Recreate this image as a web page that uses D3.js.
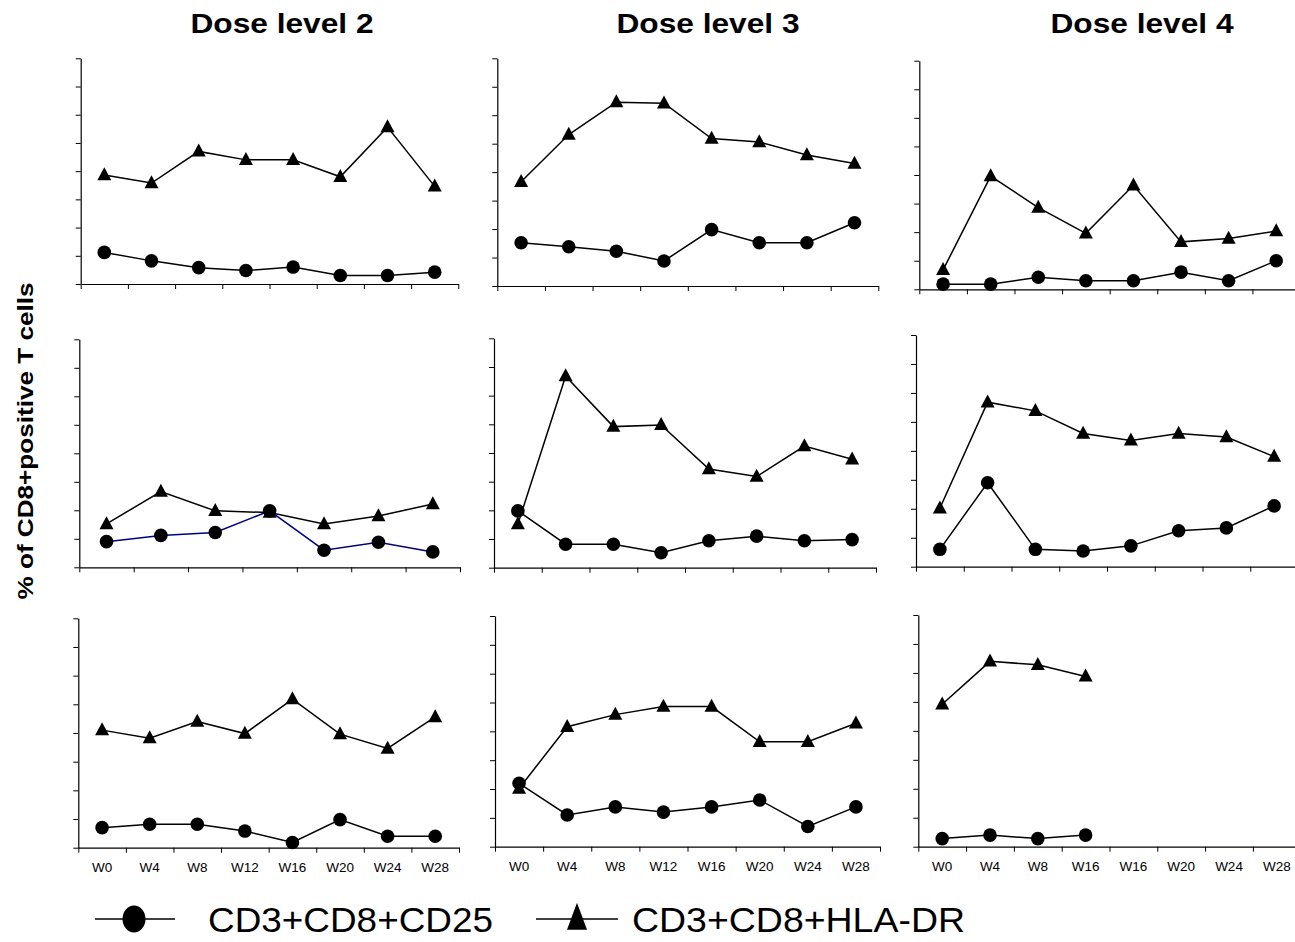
<!DOCTYPE html>
<html>
<head>
<meta charset="utf-8">
<script src="https://cdn.jsdelivr.net/npm/d3@7"></script>
<style>
  html, body { margin: 0; padding: 0; background: #fff; }
  svg { display: block; font-family: "Liberation Sans", Arial, sans-serif; }
</style>
</head>
<body>
<svg id="chart" width="1295" height="942"></svg>
<script>
// ---------------- DATA ----------------
const doseLevels = ["Dose level 2", "Dose level 3", "Dose level 4"];
const weeks = ["W0", "W4", "W8", "W12", "W16", "W20", "W24", "W28"];
const weeksSeven = ["W0", "W4", "W8", "W12", "W16", "W20", "W24"];
const weeksDose4Patient3 = ["W0", "W4", "W8", "W16", "W16", "W20", "W24", "W28"];
const yTicks = [0, 5, 10, 15, 20, 25, 30, 35, 40];
const seriesNames = ["CD3+CD8+CD25", "CD3+CD8+HLA-DR"];

// Row 1
const cd25_r1_d2  = [5.6, 4.1, 2.9, 2.4, 3.0, 1.5, 1.5, 2.1];
const hladr_r1_d2 = [19.3, 17.9, 23.5, 22.0, 22.0, 19.0, 27.8, 17.3];
const cd25_r1_d3  = [7.6, 6.9, 6.1, 4.4, 9.9, 7.6, 7.6, 11.1];
const hladr_r1_d3 = [18.3, 26.6, 32.3, 32.1, 25.9, 25.3, 23.0, 21.5];
const cd25_r1_d4  = [0.9, 0.9, 2.1, 1.5, 1.5, 3.0, 1.5, 5.0];
const hladr_r1_d4 = [3.4, 19.8, 14.3, 9.8, 18.2, 8.3, 8.9, 10.2];
// Row 2
const cd25_r2_d2  = [4.5, 5.6, 6.1, 9.9, 3.0, 4.4, 2.7];
const hladr_r2_d2 = [7.6, 13.3, 9.9, 9.6, 7.6, 9.0, 11.1];
const cd25_r2_d3  = [9.9, 4.1, 4.1, 2.6, 4.7, 5.5, 4.7, 4.9];
const hladr_r2_d3 = [7.6, 33.4, 24.6, 24.9, 17.2, 15.9, 21.2, 18.9];
const cd25_r2_d4  = [3.0, 14.5, 3.0, 2.7, 3.6, 6.2, 6.7, 10.5];
const hladr_r2_d4 = [10.1, 28.4, 26.9, 23.0, 21.8, 23.0, 22.4, 19.0];
// Row 3
const cd25_r3_d2  = [3.5, 4.1, 4.1, 2.9, 0.9, 4.9, 2.0, 2.0];
const hladr_r3_d2 = [20.5, 19.1, 22.0, 19.9, 25.9, 19.8, 17.3, 22.8];
const cd25_r3_d3  = [11.0, 5.5, 6.9, 6.0, 6.9, 8.1, 3.5, 6.9];
const hladr_r3_d3 = [10.1, 20.8, 22.9, 24.3, 24.3, 18.2, 18.2, 21.4];
const cd25_r3_d4  = [1.4, 2.0, 1.4, 2.0];
const hladr_r3_d4 = [24.6, 32.0, 31.4, 29.4];

// ---------------- LAYOUT ----------------
// panel geometry: left axis x, right end, top tick y, baseline y
const panels = [
  {row: 0, col: 0, L: 80.7, R: 458.3, T: 58.3, B: 284,   cats: weeks,      cd25: cd25_r1_d2, hla: hladr_r1_d2},
  {row: 0, col: 1, L: 497.3, R: 878.3, T: 58.3, B: 286,  cats: weeks,      cd25: cd25_r1_d3, hla: hladr_r1_d3},
  {row: 0, col: 2, L: 919.3, R: 1300, T: 60.7, B: 289.3, cats: weeks,      cd25: cd25_r1_d4, hla: hladr_r1_d4},
  {row: 1, col: 0, L: 79.3, R: 460, T: 339.3, B: 567.3,  cats: weeksSeven, cd25: cd25_r2_d2, hla: hladr_r2_d2, cd25Color: "#000080"},
  {row: 1, col: 1, L: 494, R: 876, T: 338.3, B: 567.7,   cats: weeks,      cd25: cd25_r2_d3, hla: hladr_r2_d3},
  {row: 1, col: 2, L: 916, R: 1298, T: 335, B: 566.7,    cats: weeks,      cd25: cd25_r2_d4, hla: hladr_r2_d4},
  {row: 2, col: 0, L: 78.3, R: 459, T: 618.3, B: 847.7,  cats: weeks,      cd25: cd25_r3_d2, hla: hladr_r3_d2, labels: true},
  {row: 2, col: 1, L: 495, R: 880, T: 616, B: 846.7,     cats: weeks,      cd25: cd25_r3_d3, hla: hladr_r3_d3, labels: true},
  {row: 2, col: 2, L: 918.3, R: 1300.7, T: 615, B: 846.7, cats: weeksDose4Patient3, cd25: cd25_r3_d4, hla: hladr_r3_d4, labels: true}
];

const svg = d3.select("#chart");

const triPath = (w, h) => `M0,${-h * 0.6}L${w / 2},${h * 0.4}L${-w / 2},${h * 0.4}Z`;

panels.forEach(p => {
  const g = svg.append("g");
  const idx = d3.range(p.cats.length);
  const x = d3.scaleBand().domain(idx).range([p.L, p.R]).padding(0);
  const xEdge = d3.scaleLinear().domain([0, p.cats.length]).range([p.L, p.R]);
  const y = d3.scaleLinear().domain([0, 40]).range([p.B, p.T]);

  // y axis
  const ya = g.append("g").attr("transform", `translate(${p.L},0)`)
    .call(d3.axisLeft(y).tickValues(yTicks).tickSize(5).tickSizeOuter(0).tickFormat(""));
  // x axis tick marks at category boundaries
  const xa = g.append("g").attr("transform", `translate(0,${p.B})`)
    .call(d3.axisBottom(xEdge).tickValues(d3.range(p.cats.length + 1)).tickSize(5).tickSizeOuter(0).tickFormat(""));
  [ya, xa].forEach(a => {
    a.selectAll("path.domain").attr("stroke", "#000").attr("stroke-width", 1.2);
    a.selectAll(".tick line").attr("stroke", "#000").attr("stroke-width", 1);
  });

  if (p.labels) {
    const la = g.append("g").attr("transform", `translate(0,${p.B})`)
      .call(d3.axisBottom(x).tickSize(0).tickPadding(15).tickFormat(i => p.cats[i]));
    la.select("path.domain").remove();
    la.selectAll("text").attr("font-size", 13.5).attr("fill", "#000")
      .attr("font-family", "'Liberation Sans', Arial, sans-serif");
  }

  const cx = i => x(i) + x.bandwidth() / 2;
  const line = d3.line().x((d, i) => cx(i)).y(d => y(d));

  // HLA-DR series (triangles)
  g.append("path").datum(p.hla).attr("d", line)
    .attr("fill", "none").attr("stroke", "#000").attr("stroke-width", 1.5);
  g.selectAll("path.tri").data(p.hla).join("path").attr("class", "tri")
    .attr("d", triPath(14, 13))
    .attr("transform", (d, i) => `translate(${cx(i)},${y(d)})`)
    .attr("fill", "#000");

  // CD25 series (circles)
  g.append("path").datum(p.cd25).attr("d", line)
    .attr("fill", "none").attr("stroke", p.cd25Color || "#000").attr("stroke-width", 1.5);
  g.selectAll("circle.dot").data(p.cd25).join("circle").attr("class", "dot")
    .attr("cx", (d, i) => cx(i)).attr("cy", d => y(d)).attr("r", 6.8)
    .attr("fill", "#000");
});

// Column titles
const titleX = [282, 708, 1142];
svg.selectAll("text.title").data(doseLevels).join("text").attr("class", "title")
  .attr("x", (d, i) => titleX[i]).attr("y", 33)
  .attr("text-anchor", "middle")
  .attr("font-size", 27).attr("font-weight", "bold")
  .attr("textLength", 183).attr("lengthAdjust", "spacingAndGlyphs")
  .text(d => d);

// Y axis label
svg.append("text")
  .attr("transform", "translate(33,441) rotate(-90)")
  .attr("text-anchor", "middle")
  .attr("font-size", 22).attr("font-weight", "bold")
  .attr("textLength", 317).attr("lengthAdjust", "spacingAndGlyphs")
  .text("% of CD8+positive T cells");

// Legend
const legend = svg.append("g");
const legendItems = [
  {name: seriesNames[0], x1: 95, x2: 175, mx: 134, tx: 208, tw: 285, shape: "circle"},
  {name: seriesNames[1], x1: 536, x2: 618, mx: 577, tx: 632, tw: 333, shape: "tri"}
];
const ly = 919;
legendItems.forEach(it => {
  legend.append("line").attr("x1", it.x1).attr("x2", it.x2).attr("y1", ly).attr("y2", ly)
    .attr("stroke", "#000").attr("stroke-width", 1.5);
  if (it.shape === "circle") {
    legend.append("ellipse").attr("cx", it.mx).attr("cy", ly).attr("rx", 11.5).attr("ry", 13.5).attr("fill", "#000");
  } else {
    legend.append("path").attr("d", triPath(20, 27)).attr("transform", `translate(${it.mx},${ly})`).attr("fill", "#000");
  }
  legend.append("text").attr("x", it.tx).attr("y", 932)
    .attr("font-size", 35)
    .attr("textLength", it.tw).attr("lengthAdjust", "spacingAndGlyphs")
    .text(it.name);
});
</script>
</body>
</html>
